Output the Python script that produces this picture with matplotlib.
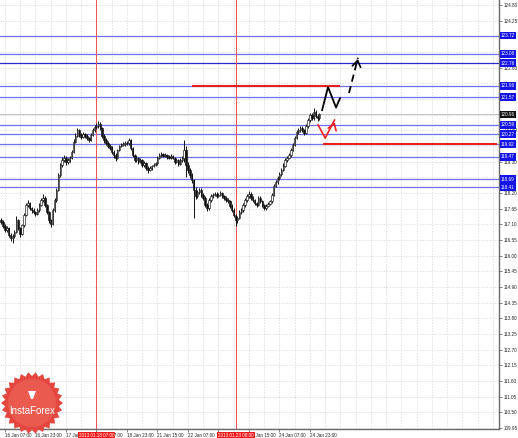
import numpy as np
import matplotlib
matplotlib.use("Agg")
import matplotlib.pyplot as plt
from matplotlib.transforms import blended_transform_factory
from matplotlib.patches import Polygon

# EUR/JPY H1 candles (open of each bar = previous close)
first_open = 117.25
close = [117.18, 117.04, 116.90, 116.97, 116.72, 116.62, 116.69, 116.83, 117.25, 116.97,
         116.76, 117.08, 117.43, 117.78, 117.85, 117.67, 117.60, 117.53, 117.46, 117.60,
         117.78, 117.96, 118.03, 117.78, 117.53, 117.25, 117.11, 117.60, 117.96, 118.31,
         118.83, 119.18, 119.36, 119.43, 119.29, 119.36, 119.43, 119.64, 119.99, 120.20,
         120.41, 120.24, 120.17, 120.27, 120.20, 120.13, 120.06, 120.24, 120.41, 120.52,
         120.55, 120.62, 120.48, 120.20, 120.06, 119.96, 119.85, 119.78, 119.64, 119.54,
         119.43, 119.71, 119.85, 119.89, 119.92, 119.96, 119.95, 120.06, 119.78, 119.54,
         119.36, 119.43, 119.29, 119.36, 119.18, 119.25, 119.08, 119.01, 119.08, 119.15,
         119.18, 119.25, 119.43, 119.54, 119.57, 119.50, 119.54, 119.46, 119.43, 119.50,
         119.43, 119.29, 119.36, 119.22, 119.36, 119.43, 119.71, 119.18, 119.01, 118.83,
         118.66, 118.31, 118.10, 118.24, 118.31, 118.13, 118.03, 117.78, 117.67, 117.96,
         118.10, 118.13, 118.17, 118.10, 118.13, 118.20, 118.10, 118.03, 117.96, 117.91,
         117.74, 117.60, 117.43, 117.25, 117.32, 117.53, 117.60, 117.78, 117.96, 118.10,
         118.17, 118.03, 117.96, 117.85, 117.78, 118.03, 117.91, 117.78, 117.67, 117.74,
         117.82, 117.91, 118.13, 118.45, 118.59, 118.73, 118.87, 119.01, 119.15, 119.36,
         119.43, 119.54, 119.71, 119.89, 120.13, 120.34, 120.41, 120.48, 120.41, 120.31,
         120.55, 120.76, 120.94, 120.83, 121.04, 120.90, 120.83, 120.96]
high = [117.32, 117.24, 117.10, 117.05, 117.00, 116.80, 116.75, 116.90, 117.40, 117.30,
        117.02, 117.12, 117.50, 117.85, 117.95, 117.90, 117.72, 117.66, 117.58, 117.66,
        117.84, 118.02, 118.15, 118.08, 117.82, 117.58, 117.30, 117.66, 118.02, 118.38,
        118.92, 119.26, 119.45, 119.52, 119.50, 119.42, 119.50, 119.70, 120.08, 120.30,
        120.50, 120.46, 120.30, 120.34, 120.32, 120.26, 120.18, 120.30, 120.48, 120.60,
        120.66, 120.72, 120.68, 120.52, 120.26, 120.12, 120.02, 119.92, 119.84, 119.70,
        119.60, 119.76, 119.90, 119.95, 119.98, 120.02, 120.04, 120.12, 120.10, 119.82,
        119.58, 119.52, 119.48, 119.42, 119.40, 119.32, 119.30, 119.14, 119.14, 119.20,
        119.24, 119.30, 119.50, 119.60, 119.64, 119.62, 119.60, 119.58, 119.52, 119.56,
        119.54, 119.46, 119.42, 119.40, 119.42, 119.50, 120.06, 119.85, 119.30, 119.08,
        118.90, 118.70, 118.40, 118.32, 118.38, 118.36, 118.20, 118.08, 117.84, 118.02,
        118.16, 118.20, 118.24, 118.22, 118.20, 118.26, 118.24, 118.14, 118.08, 118.02,
        117.96, 117.80, 117.66, 117.48, 117.40, 117.60, 117.68, 117.84, 118.04, 118.18,
        118.26, 118.22, 118.08, 118.00, 117.90, 118.10, 118.08, 117.96, 117.82, 117.80,
        117.88, 117.96, 118.20, 118.52, 118.66, 118.80, 118.94, 119.08, 119.24, 119.44,
        119.50, 119.62, 119.78, 119.96, 120.20, 120.42, 120.48, 120.56, 120.54, 120.46,
        120.62, 120.84, 121.02, 121.00, 121.20, 121.10, 120.96, 121.02]
low = [117.10, 116.98, 116.82, 116.85, 116.66, 116.50, 116.45, 116.64, 116.80, 116.90,
       116.66, 116.72, 117.02, 117.40, 117.70, 117.60, 117.50, 117.45, 117.38, 117.42,
       117.55, 117.74, 117.90, 117.72, 117.46, 117.15, 117.00, 117.08, 117.55, 117.90,
       118.26, 118.78, 119.10, 119.28, 119.20, 119.22, 119.30, 119.38, 119.60, 119.94,
       120.15, 120.16, 120.08, 120.12, 120.14, 120.05, 119.98, 120.02, 120.20, 120.36,
       120.44, 120.50, 120.40, 120.12, 119.96, 119.88, 119.78, 119.70, 119.56, 119.44,
       119.33, 119.40, 119.66, 119.80, 119.84, 119.86, 119.88, 119.90, 119.72, 119.46,
       119.28, 119.30, 119.22, 119.24, 119.10, 119.12, 119.00, 118.90, 118.96, 119.02,
       119.10, 119.14, 119.20, 119.40, 119.48, 119.45, 119.46, 119.40, 119.38, 119.40,
       119.38, 119.22, 119.25, 119.16, 119.18, 119.30, 119.30, 118.75, 118.92, 118.72,
       118.55, 117.32, 118.00, 118.04, 118.18, 118.06, 117.96, 117.70, 117.58, 117.62,
       117.90, 118.04, 118.08, 118.04, 118.05, 118.08, 118.04, 117.96, 117.90, 117.84,
       117.68, 117.52, 117.36, 117.05, 117.15, 117.28, 117.46, 117.55, 117.72, 117.90,
       118.04, 117.96, 117.88, 117.78, 117.70, 117.74, 117.84, 117.72, 117.60, 117.62,
       117.70, 117.78, 117.86, 118.08, 118.40, 118.52, 118.66, 118.80, 118.96, 119.10,
       119.28, 119.38, 119.48, 119.66, 119.84, 120.08, 120.28, 120.36, 120.34, 120.22,
       120.26, 120.50, 120.70, 120.76, 120.78, 120.82, 120.74, 120.78]

# horizontal levels on the right scale
blue_levels = [123.72, 123.08, 122.76, 121.96, 121.57, 120.59, 120.27, 119.92, 119.47, 118.69, 118.41]
current_price = 120.96
red_upper = (121.96, 100, 178)     # price, from bar, to bar
red_lower = (119.92, 169, 260)

# vertical markers
vline_bars = [50, 123]
vline_labels = ["2013.01.18 07:00", "2013.01.23 08:00"]

tick_bars = [2, 18, 34, 50, 66, 82, 98, 114, 130, 146, 162]
tick_labels = ["16 Jan 07:00", "16 Jan 23:00", "17 Jan 15:00", "18 Jan 07:00", "18 Jan 23:00",
               "21 Jan 15:00", "22 Jan 07:00", "22 Jan 23:00", "23 Jan 15:00", "24 Jan 07:00",
               "24 Jan 23:00"]

# forecast sketch (bar, price)
black_path_bars = [168.4, 171.5, 175.7, 177.8]
black_path_prices = [121.11, 121.92, 121.20, 121.53]
black_dash_bars = [182.5, 187.2]
black_dash_prices = [121.71, 122.95]
red_path_bars = [166.3, 170.0, 174.9]
red_path_prices = [120.59, 120.13, 120.76]

FONT = "Liberation Sans"
fs = 3.3

fig = plt.figure(figsize=(5.18, 4.38), dpi=100)
ax = fig.add_axes([0, 9 / 438, 499 / 518, 429 / 438])
ax.set_xlim(-0.6, 261.2)
ax.set_ylim(109.92, 124.975)

# grid + right price scale (labels hidden where a level box sits right on top)
yt = np.round(109.95 + 0.55 * np.arange(28), 2)
boxed = blue_levels + [current_price]
ax.set_yticks(yt)
ax.set_yticklabels(["" if min(abs(v - b) for b in boxed) < 0.13 else f"{v:.2f}" for v in yt],
                   fontsize=fs, family=FONT, color="#222222")
ax.yaxis.tick_right()
ax.tick_params(axis="y", length=2, width=0.5, pad=1.5, colors="#555555", labelcolor="#222222")
for v in yt:
    ax.axhline(v, color="#d4d4d4", lw=0.5, ls=(0, (2, 2)), zorder=0)
for b in range(2, 262, 8):
    ax.axvline(b, color="#d4d4d4", lw=0.5, ls=(0, (2, 2)), zorder=0)

ax.set_xticks(tick_bars)
ax.set_xticklabels(tick_labels, fontsize=fs, family=FONT, color="#222222")
for lb in ax.get_xticklabels():
    lb.set_horizontalalignment("left")
ax.tick_params(axis="x", length=2, width=0.5, pad=1, colors="#555555", labelcolor="#222222")

for s in ["top", "left"]:
    ax.spines[s].set_visible(False)
for s in ["right", "bottom"]:
    ax.spines[s].set_color("#6a6a6a")
    ax.spines[s].set_linewidth(1.0)

# candles
c = np.array(close)
o = np.concatenate([[first_open], c[:-1]])
h = np.maximum(np.array(high), np.maximum(o, c))
l = np.minimum(np.array(low), np.minimum(o, c))
x = np.arange(len(c))
ax.vlines(x, l, h, color="#111111", lw=0.7, zorder=3)
bull = c >= o
body_lo = np.minimum(o, c)
body_h = np.maximum(np.abs(c - o), 0.012)
ax.bar(x[bull], body_h[bull], bottom=body_lo[bull], width=0.75, color="white",
       edgecolor="#111111", linewidth=0.45, zorder=4)
ax.bar(x[~bull], body_h[~bull], bottom=body_lo[~bull], width=0.75, color="#111111",
       edgecolor="#111111", linewidth=0.45, zorder=4)

# levels
trans = blended_transform_factory(ax.transAxes, ax.transData)
for i, lv in enumerate(blue_levels):
    col = "#2a2ad0" if i == 2 else "#6f6ff2"
    ax.axhline(lv, color=col, lw=0.9, zorder=2)
    ax.text(1.004, lv, f"{lv:.2f}", transform=trans, fontsize=fs, family=FONT, color="white",
            va="center", ha="left", clip_on=False, zorder=10,
            bbox=dict(boxstyle="square,pad=0.25", fc="#1414e6", ec="none"))
ax.axhline(current_price, color="#b8b8b8", lw=0.6, zorder=2)
ax.text(1.004, current_price, f"{current_price:.2f}", transform=trans, fontsize=fs, family=FONT,
        color="white", va="center", ha="left", clip_on=False, zorder=10,
        bbox=dict(boxstyle="square,pad=0.25", fc="#111111", ec="none"))

ax.hlines(red_upper[0], red_upper[1], red_upper[2], color="#e8201c", lw=1.5, zorder=5)
ax.hlines(red_lower[0], red_lower[1], red_lower[2], color="#e8201c", lw=1.5, zorder=5)

# vertical red lines with date boxes (drawn over the time labels, like the terminal does)
xtrans = blended_transform_factory(ax.transData, ax.transAxes)
for b, lab in zip(vline_bars, vline_labels):
    ax.axvline(b, color="#f05050", lw=0.7, zorder=2)
    ax.text(b, -0.0095, lab, transform=xtrans, fontsize=fs, family=FONT, color="white",
            ha="center", va="top", clip_on=False, zorder=10,
            bbox=dict(boxstyle="square,pad=0.25", fc="#f01818", ec="none"))

# forecast arrows
ax.plot(black_path_bars, black_path_prices, color="black", lw=1.3, zorder=6)
ax.plot(black_dash_bars, black_dash_prices, color="black", lw=1.3, ls=(0, (4, 2.5)), zorder=6)
ax.annotate("", xy=(black_dash_bars[1] + 0.2, black_dash_prices[1] + 0.05),
            xytext=(black_dash_bars[1] - 0.6, black_dash_prices[1] - 0.25),
            arrowprops=dict(arrowstyle="->,head_length=0.45,head_width=0.3", color="black", lw=1.2),
            zorder=7)
ax.plot(red_path_bars, red_path_prices, color="#f02020", lw=1.2, zorder=6)
ax.annotate("", xy=(red_path_bars[2] + 0.6, red_path_prices[2] + 0.02),
            xytext=(red_path_bars[2] - 0.8, red_path_prices[2] - 0.25),
            arrowprops=dict(arrowstyle="->,head_length=0.45,head_width=0.3", color="#f02020", lw=1.2),
            zorder=7)

# InstaForex badge
lax = fig.add_axes([0, 0, 66 / 518, 66 / 438])
lax.set_xlim(0, 66)
lax.set_ylim(0, 66)
lax.axis("off")
n = 26
ang = np.linspace(0, 2 * np.pi, 2 * n, endpoint=False)
rad = np.where(np.arange(2 * n) % 2 == 0, 31, 27)
cx, cy = 32, 35
pts = np.column_stack([cx + rad * np.cos(ang), cy + rad * np.sin(ang)])
lax.add_patch(Polygon(pts, closed=True, fc="#e4473f", ec="none"))
lax.add_patch(plt.Circle((cx, cy), 24, fc="#ea5a4f", ec="none"))
lax.add_patch(Polygon([[cx - 4, cy + 12], [cx + 4, cy + 12], [cx + 1, cy + 4], [cx - 1, cy + 4]],
                      closed=True, fc="white", ec="none"))
lax.text(cx, cy - 8, "InstaForex", color="white", fontsize=7, family=FONT,
         ha="center", va="center")

fig.savefig("out.png", dpi=100, facecolor="white")
